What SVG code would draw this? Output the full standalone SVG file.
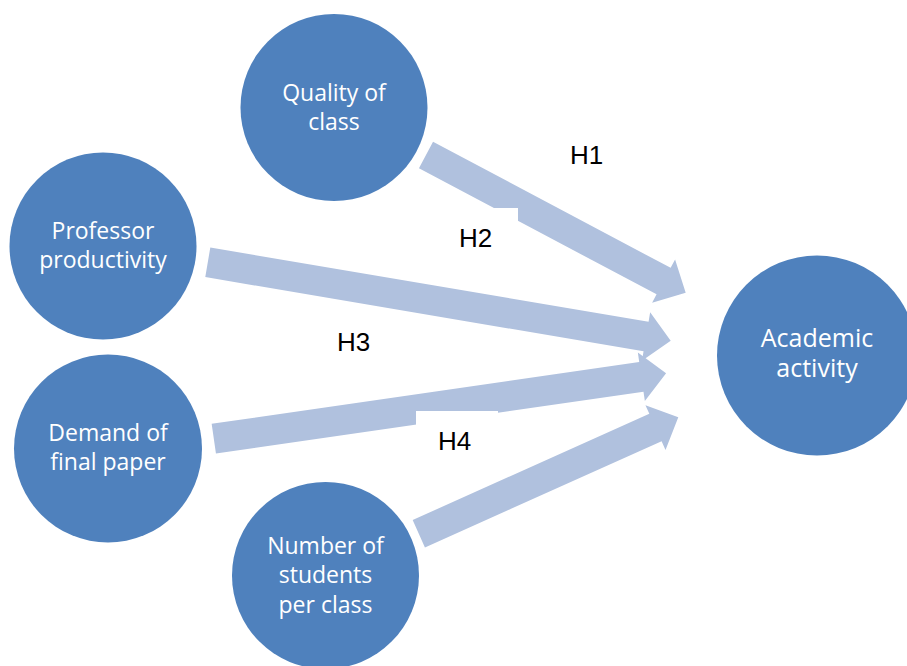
<svg xmlns="http://www.w3.org/2000/svg" width="907" height="666" viewBox="0 0 907 666">
<style>
.node circle{fill:#4F81BD;}
.node text{fill:#FFFFFF;font-family:"Open Sans","Noto Sans",sans-serif;font-size:23px;text-anchor:middle;}
.arrow{fill:#B0C1DE;}
.lbl rect{fill:#FFFFFF;}
.lbl text{fill:#000000;font-family:"Liberation Sans",Arial,sans-serif;font-size:26px;}
</style>
<rect x="0" y="0" width="907" height="666" fill="#FFFFFF"/>
<g id="quality" class="node">
<circle cx="334" cy="107.5" r="93.5"/>
<text x="334" y="100.5">Quality of</text>
<text x="334" y="129.5">class</text>
</g>
<g id="professor" class="node">
<circle cx="103" cy="246" r="93.5"/>
<text x="103" y="239">Professor</text>
<text x="103" y="268">productivity</text>
</g>
<g id="demand" class="node">
<circle cx="108" cy="448.5" r="94"/>
<text x="108" y="441">Demand of</text>
<text x="108" y="469.5">final paper</text>
</g>
<g id="number" class="node">
<circle cx="325.5" cy="575.5" r="93.5"/>
<text x="325.5" y="554">Number of</text>
<text x="325.5" y="583">students</text>
<text x="325.5" y="612.5">per class</text>
</g>
<g id="academic" class="node">
<circle cx="817" cy="355.5" r="100"/>
<text x="817" y="347" style="font-size:25px">Academic</text>
<text x="817" y="377" style="font-size:25px">activity</text>
</g>
<g id="connectors">
<polygon class="arrow" transform="translate(426,155) rotate(27.96)" points="0,-15 269,-15 269,-24.5 294,0 269,24.5 269,15 0,15"/>
<polygon class="arrow" transform="translate(207.8,262.3) rotate(9.61)" points="0,-15 444.5,-15 444.5,-24.5 469.5,0 444.5,24.5 444.5,15 0,15"/>
<polygon class="arrow" transform="translate(213.8,438.7) rotate(-8.23)" points="0,-15 432,-15 432,-24.5 457,0 432,24.5 432,15 0,15"/>
<polygon class="arrow" transform="translate(418.8,533.7) rotate(-24.16)" points="0,-15 259.4,-15 259.4,-24.5 284.4,0 259.4,24.5 259.4,15 0,15"/>
</g>
<g id="labels" class="lbl">
<text x="570" y="164">H1</text>
<rect x="445" y="208" width="73" height="52"/>
<text x="459" y="247">H2</text>
<text x="337" y="351">H3</text>
<rect x="416" y="411" width="82" height="54"/>
<text x="438" y="450">H4</text>
</g>
</svg>
